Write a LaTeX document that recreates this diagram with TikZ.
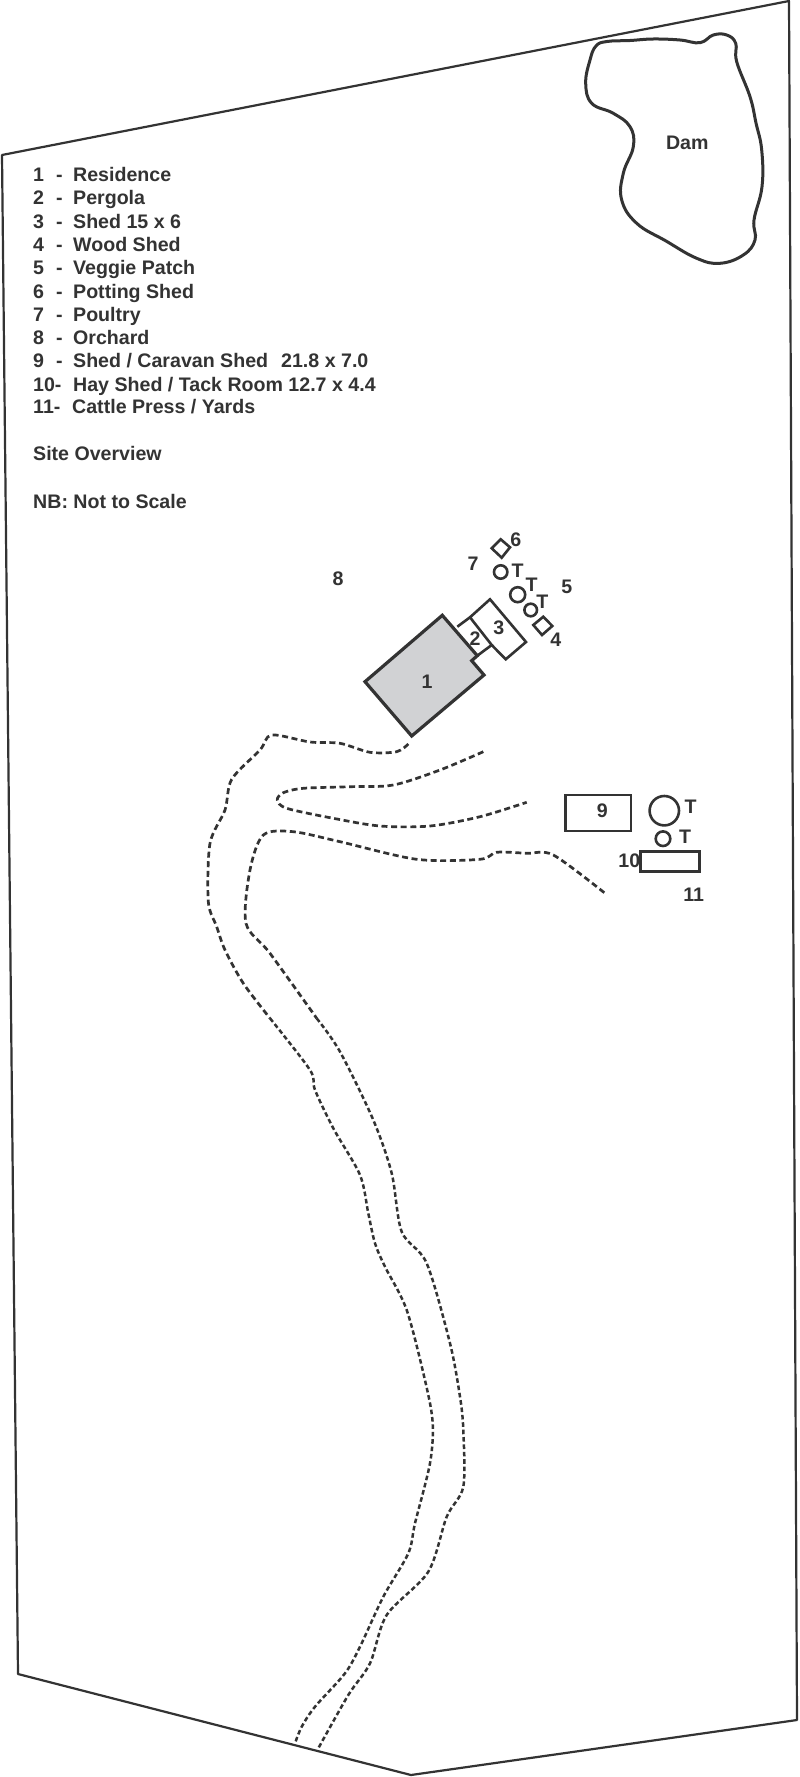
\documentclass[tikz,border=0pt]{standalone}
\usepackage{fontspec}
\setmainfont{Liberation Sans}
\definecolor{ink}{HTML}{333333}
\definecolor{roof}{HTML}{D1D2D4}
\tikzset{
  x=1pt,y=-1pt,
  outline/.style={draw=ink,line width=2.2pt,line join=round},
  building/.style={draw=ink,line width=2.6pt,line join=miter},
  house/.style={draw=ink,line width=3.2pt,line join=miter,fill=roof},
  dam/.style={draw=ink,line width=3pt,smooth cycle,tension=0.7},
  trackupper/.style={draw=ink,line width=2.7pt,dash pattern=on 6pt off 3.6pt},
  tracklower/.style={draw=ink,line width=2.5pt,dash pattern=on 4.6pt off 2.8pt},
  lbl/.style={font=\fontsize{19.6}{22}\selectfont\bfseries,text=ink,inner sep=0pt},
  legend/.style={lbl,anchor=base west},
}
\begin{document}
\begin{tikzpicture}
\useasboundingbox (0,0) rectangle (800,1777);
\fill[white] (0,0) rectangle (800,1777);
% site boundary
\draw[outline] (2,155) -- (789,1) -- (797,1720) -- (411,1775) -- (18,1674) -- cycle;
% dam
\draw[dam] plot coordinates {(607,41.5) (630,40.5) (653.3,39) (680,40) (700,42.7) (713.3,35) (726.7,35) (735.7,43.3) (736.7,61.7) (750,96.7) (756,123) (761.7,150) (762,186.7) (754,220) (755,240) (743.3,255) (720,263.3) (696.7,258.3) (666,241) (636.7,223.3) (621.7,200) (623.3,173.3) (633.3,146.7) (630,126.7) (613.3,113.3) (591.7,103.3) (585.7,83.3) (590,60) (596,46)};
\node[lbl] (damlabel) at (687.3,143) {Dam};
% tracks
\draw[trackupper] plot[smooth,tension=0.5] coordinates {(408.3,744) (396.7,751.7) (370,752.3) (340,743.3) (310,742) (271.7,735) (260,750) (231.7,779.3) (225,810) (210,843.3) (208.3,901.7) (216.7,926.7) (225,950) (243.3,983.3) (270,1018.3)};
\draw[tracklower] plot[smooth,tension=0.5] coordinates {(270,1018.3) (310,1070) (315,1090) (333.3,1128.3) (360,1175) (368.3,1213.3) (375,1243.3) (385,1266.7) (406.7,1310) (425.7,1383.3) (432.7,1423.3) (430,1463.3) (415,1523.3) (408.3,1553.3) (383.3,1596.7) (360,1646.7) (345,1673.3) (315,1706.7) (301.7,1726.7) (295,1743.3)};
\draw[trackupper] plot[smooth,tension=0.5] coordinates {(483.3,751.7) (440,770) (393.3,785) (350,786.7) (303.3,788.3) (283.3,792.7) (277.3,800) (286.7,808.3) (333.3,818.3) (380,826) (430,826) (480,816.7) (526.7,802.3)};
\draw[trackupper] plot[smooth,tension=0.5] coordinates {(604.3,892.7) (553.3,855) (526.7,853.3) (496.7,852.3) (480,859.3) (416.7,859.3) (340,841.7) (293.3,831.7) (263.3,835) (250,870) (246,923.3) (270,953.3) (316.7,1018.3)};
\draw[tracklower] plot[smooth,tension=0.5] coordinates {(316.7,1018.3) (340,1051.7) (373.3,1120) (391.7,1173.3) (401.7,1231.7) (426.7,1263.3) (450,1343.3) (460,1396.7) (463.3,1430) (463.3,1486.7) (446.7,1516.7) (428.3,1571.7) (386.7,1615) (370,1663.3) (348.3,1695) (318.3,1748.3)};
% buildings
\draw[house] (365,681.7) -- (442.3,615.3) -- (477.3,655.7) -- (471.7,660.7) -- (484,675) -- (411.7,736) -- cycle;
\draw[building] (457.3,626.7) -- (470,617.3) -- (491.7,645) -- (477.3,655.7);
\draw[building] (470,617.3) -- (490,599.3) -- (526,642) -- (505.7,659.3) -- (491.7,645);
\draw[building] (500.7,539.3) -- (510,547.3) -- (501.7,557.7) -- (491.7,548.3) -- cycle;
\draw[building] (543.3,616.7) -- (552.3,626) -- (542,635) -- (533.3,625) -- cycle;
\draw[building] (500.7,572) circle (6.7);
\draw[building] (517.7,594.7) circle (7.5);
\draw[building] (530.7,610) circle (6.3);
\draw[building] (565.3,795) rectangle (631,831);
\draw[building] (664.3,810.7) circle (14.7);
\draw[building] (663,838.7) circle (7.3);
\draw[building] (640.7,851.3) rectangle (699.7,871.7);
% map labels
\node[lbl] (n1) at (427,681.5) {1};
\node[lbl] (n2) at (475,638.5) {2};
\node[lbl] (n3) at (498.7,627.5) {3};
\node[lbl] (n4) at (555.7,639.8) {4};
\node[lbl] (n5) at (566.7,587) {5};
\node[lbl] (n6) at (515.7,539.5) {6};
\node[lbl] (n7) at (473,563.5) {7};
\node[lbl] (n8) at (338,578.5) {8};
\node[lbl] (n9) at (602.3,811) {9};
\node[lbl] (n10) at (629.3,860.5) {10};
\node[lbl] (n11) at (693.7,894.5) {11};
\node[lbl] (t1) at (517.7,571) {T};
\node[lbl] (t2) at (531.7,584.5) {T};
\node[lbl] (t3) at (542.3,602) {T};
\node[lbl] (t4) at (690.7,807) {T};
\node[lbl] (t5) at (685,837) {T};
% legend
\foreach \nm/\yy/\num/\txt in {a/181/1/Residence,b/204.3/2/Pergola,c/228.3/3/Shed 15 x 6,d/251.6/4/Wood Shed,e/274.9/5/Veggie Patch,f/298.2/6/Potting Shed,g/321.5/7/Poultry,h/344.8/8/Orchard}{
  \node[legend] (num\nm) at (33,\yy) {\num};
  \node[legend] (dash\nm) at (56,\yy) {-};
  \node[legend] (txt\nm) at (73,\yy) {\txt};
}
\node[legend] (numi) at (33,367.8) {9};
\node[legend] (dashi) at (56,367.8) {-};
\node[legend] (txti) at (73,367.8) {Shed / Caravan Shed};
\node[legend] (dimi) at (281,367.8) {21.8 x 7.0};
\node[legend] (numj) at (33,391.1) {10-};
\node[legend] (txtj) at (73,391.1) {Hay Shed / Tack Room 12.7 x 4.4};
\node[legend] (numk) at (33,413.7) {11-};
\node[legend] (txtk) at (72,413.7) {Cattle Press / Yards};
\node[legend] (site) at (33,460.3) {Site Overview};
\node[legend] (nb) at (33,508) {NB: Not to Scale};
\end{tikzpicture}
\end{document}
